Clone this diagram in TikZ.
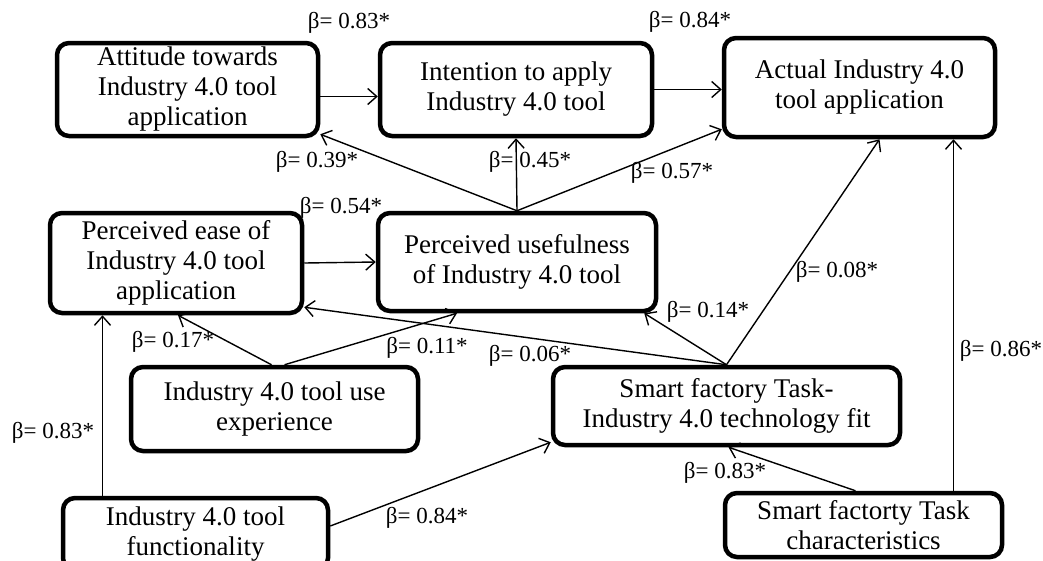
\documentclass[tikz,border=0pt]{standalone}
\usepackage{fontspec}
\setmainfont{Liberation Serif}
\usetikzlibrary{arrows.meta,calc}
\tikzset{
  factor/.style={draw, rounded corners=12pt, line width=4.5pt, align=center,
    inner sep=0pt, font=\fontsize{27}{30}\selectfont},
  link/.style={-{Straight Barb[length=9pt,width=16pt]}, line width=1.4pt},
  coef/.style={inner sep=0pt, font=\fontsize{23}{25}\selectfont}
}
\begin{document}
\begin{tikzpicture}[x=1pt, y=-1pt]
  \useasboundingbox (0,0) rectangle (1043,560);
  % constructs
  \node[factor, minimum width=261pt, minimum height=93pt] (att) at (187.5,89.5)
    {Attitude towards\\Industry 4.0 tool\\application};
  \node[factor, minimum width=272pt, minimum height=93pt] (int) at (516,89.5)
    {Intention to apply\\Industry 4.0 tool};
  \node[factor, minimum width=271pt, minimum height=99pt] (act) at (859.5,87.5)
    {Actual Industry 4.0\\tool application};
  \node[factor, minimum width=252pt, minimum height=100pt] (peou) at (176,263)
    {Perceived ease of\\Industry 4.0 tool\\application};
  \node[factor, minimum width=278pt, minimum height=98pt] (pu) at (517,262)
    {Perceived usefulness\\of Industry 4.0 tool};
  \node[factor, minimum width=287pt, minimum height=84pt] (exp) at (274.5,409)
    {Industry 4.0 tool use\\experience};
  \node[factor, minimum width=265pt, minimum height=72pt] (func) at (195.5,534)
    {Industry 4.0 tool\\functionality};
  \node[factor, minimum width=347pt, minimum height=78pt] (fit) at (726.5,406)
    {Smart factory Task-\\Industry 4.0 technology fit};
  \node[factor, minimum width=277pt, minimum height=64pt] (chr) at (863.5,525)
    {Smart factorty Task\\characteristics};

  % paths
  \draw[link] ([yshift=-7pt]att.east) -- ([yshift=-7pt]att.east -| int.west);
  \draw[link] (int.east) -- (int.east -| act.west);
  \draw[link] (pu.north) -- ([yshift=4pt]att.south east);
  \draw[link] (pu.north) -- (int.south);
  \draw[link] (pu.north) -- ([yshift=10pt]act.south west);
  \draw[link] (peou.east) -- (pu.west);
  \draw[link] ([xshift=-3pt]exp.north) -- ([xshift=2pt]peou.south);
  \draw[link] ([xshift=10pt]exp.north) -- ([xshift=-60pt]pu.south);
  \draw[link] ([xshift=-93pt]func.north) -- ([xshift=-93pt]func.north |- peou.south);
  \draw[link] ([yshift=8pt]func.east) -- ([yshift=5pt]fit.south west);
  \draw[link] (fit.north) -- ([yshift=8pt]peou.south east);
  \draw[link] (fit.north) -- ([xshift=-14pt]pu.south east);
  \draw[link] (fit.north) -- ([xshift=20pt]act.south);
  \draw[link] ([xshift=-8pt]chr.north) -- ([xshift=2pt]fit.south);
  \draw[link] ([xshift=90pt]chr.north) -- ([xshift=90pt]chr.north |- act.south);

  % coefficients
  \node[coef] (b1) at (349,23) {β= 0.83*};
  \node[coef] (b2) at (690,22) {β= 0.84*};
  \node[coef] (b3) at (317,162) {β= 0.39*};
  \node[coef] (b4) at (530,162) {β= 0.45*};
  \node[coef] (b5) at (672,173) {β= 0.57*};
  \node[coef] (b6) at (341,208) {β= 0.54*};
  \node[coef] (b7) at (173,342) {β= 0.17*};
  \node[coef] (b8) at (427,348) {β= 0.11*};
  \node[coef] (b9) at (530,356) {β= 0.06*};
  \node[coef] (b10) at (708,312) {β= 0.14*};
  \node[coef] (b11) at (837,272) {β= 0.08*};
  \node[coef] (b12) at (1001,351) {β= 0.86*};
  \node[coef] (b13) at (53,433) {β= 0.83*};
  \node[coef] (b14) at (427,518) {β= 0.84*};
  \node[coef] (b15) at (725,473) {β= 0.83*};
\end{tikzpicture}
\end{document}
